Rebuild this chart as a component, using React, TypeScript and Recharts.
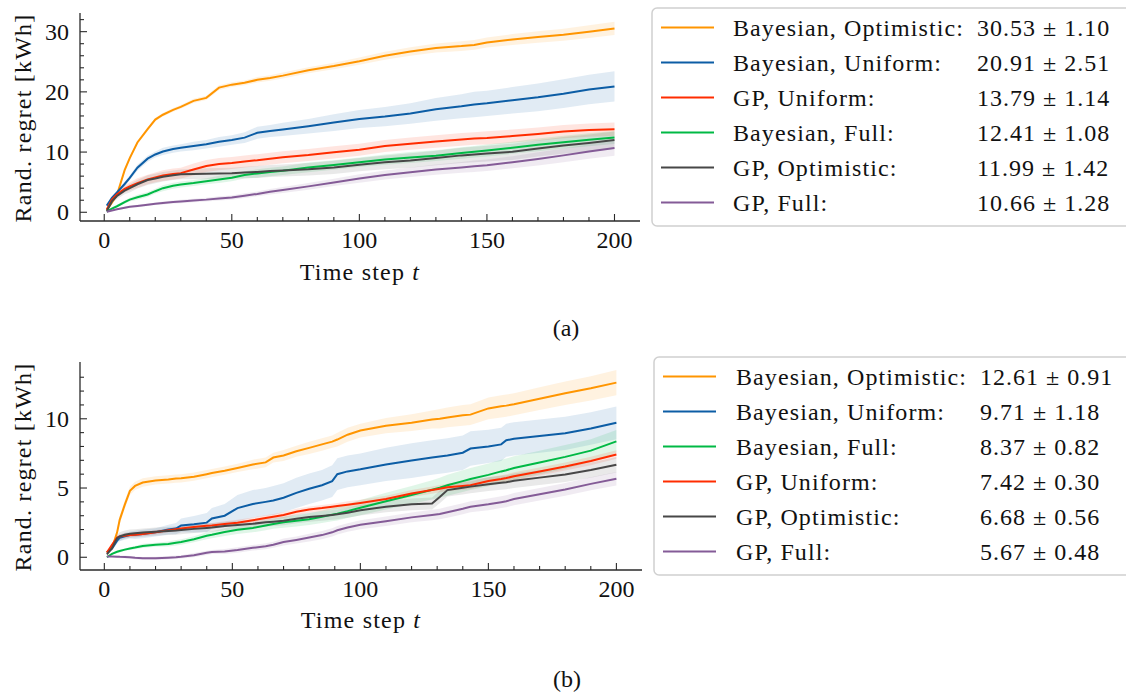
import { ComposedChart, Line, Area, XAxis, YAxis } from 'recharts'

const ORANGE = '#FF9500'
const BLUE = '#0C5DA5'
const GREEN = '#00B945'
const RED = '#FF2C00'
const PURPLE = '#845B97'
const GRAY = '#474747'
const FRAME = '#2a2a2a'
const FONT = "'Liberation Serif', 'Times New Roman', serif"

// ---- (a) cumulative regret, mean and std per time step
const stepsA = [1, 3, 5, 8, 10, 13, 17, 20, 23, 27, 30, 35, 40, 45, 50, 55, 60, 65, 70, 80, 90, 100, 110, 120, 130, 140, 145, 150, 160, 170, 180, 190, 200]
const aBayOpt = [0.4, 1.6, 2.9, 7.0, 9.0, 11.6, 13.8, 15.4, 16.2, 17.0, 17.5, 18.5, 19.0, 20.7, 21.2, 21.5, 22.0, 22.3, 22.7, 23.6, 24.3, 25.1, 26.0, 26.7, 27.3, 27.6, 27.8, 28.2, 28.7, 29.1, 29.5, 30.0, 30.53]
const aBayOptStd = [0.1, 0.2, 0.3, 0.3, 0.3, 0.3, 0.3, 0.3, 0.3, 0.3, 0.3, 0.35, 0.35, 0.4, 0.4, 0.4, 0.45, 0.45, 0.5, 0.5, 0.55, 0.6, 0.65, 0.7, 0.75, 0.8, 0.8, 0.85, 0.9, 0.95, 1.0, 1.05, 1.1]
const aBayUni = [1.1, 2.4, 3.3, 4.7, 5.7, 7.4, 8.9, 9.6, 10.1, 10.5, 10.7, 11.0, 11.3, 11.7, 12.0, 12.4, 13.2, 13.5, 13.75, 14.3, 14.9, 15.5, 15.9, 16.4, 17.1, 17.6, 17.9, 18.1, 18.6, 19.1, 19.7, 20.4, 20.91]
const aBayUniStd = [0.1, 0.2, 0.3, 0.4, 0.4, 0.5, 0.5, 0.5, 0.6, 0.6, 0.6, 0.7, 0.7, 0.8, 0.8, 0.9, 1.0, 1.0, 1.1, 1.2, 1.4, 1.5, 1.6, 1.7, 1.9, 2.0, 2.1, 2.1, 2.2, 2.3, 2.4, 2.45, 2.51]
const aGpUni = [0.45, 2.1, 3.0, 3.9, 4.3, 4.85, 5.45, 5.8, 6.1, 6.35, 6.5, 7.1, 7.7, 8.0, 8.2, 8.45, 8.65, 8.9, 9.15, 9.5, 9.95, 10.4, 11.0, 11.4, 11.75, 12.1, 12.25, 12.35, 12.65, 13.0, 13.4, 13.65, 13.79]
const aGpUniStd = [0.1, 0.3, 0.5, 0.6, 0.7, 0.8, 0.8, 0.8, 0.9, 0.9, 0.9, 1.0, 1.0, 1.0, 1.0, 1.0, 1.0, 1.0, 1.0, 1.0, 1.0, 1.0, 1.0, 1.0, 1.05, 1.05, 1.05, 1.1, 1.1, 1.1, 1.1, 1.1, 1.14]
const aBayFull = [0.1, 0.6, 1.0, 1.7, 2.1, 2.5, 2.95, 3.5, 4.0, 4.4, 4.6, 4.85, 5.15, 5.45, 5.75, 6.2, 6.45, 6.7, 6.9, 7.45, 7.85, 8.3, 8.75, 9.1, 9.4, 9.85, 10.05, 10.25, 10.7, 11.2, 11.65, 12.05, 12.41]
const aBayFullStd = [0.05, 0.1, 0.2, 0.3, 0.3, 0.4, 0.4, 0.4, 0.5, 0.5, 0.5, 0.5, 0.5, 0.6, 0.6, 0.6, 0.7, 0.7, 0.7, 0.8, 0.8, 0.8, 0.85, 0.9, 0.9, 0.95, 0.95, 1.0, 1.0, 1.05, 1.05, 1.08, 1.08]
const aGpOpt = [0.2, 1.8, 2.7, 3.6, 4.0, 4.65, 5.35, 5.6, 5.9, 6.15, 6.3, 6.35, 6.4, 6.45, 6.5, 6.6, 6.7, 6.85, 6.95, 7.15, 7.45, 7.9, 8.3, 8.6, 9.0, 9.45, 9.6, 9.75, 10.05, 10.6, 11.1, 11.5, 11.99]
const aGpOptStd = [0.1, 0.3, 0.5, 0.6, 0.7, 0.7, 0.8, 0.8, 0.8, 0.8, 0.8, 0.85, 0.9, 0.9, 0.9, 0.95, 1.0, 1.0, 1.0, 1.05, 1.1, 1.1, 1.15, 1.2, 1.2, 1.25, 1.3, 1.3, 1.35, 1.35, 1.4, 1.4, 1.42]
const aGpFull = [0.1, 0.3, 0.5, 0.75, 0.9, 1.05, 1.25, 1.4, 1.55, 1.7, 1.8, 1.95, 2.1, 2.3, 2.45, 2.75, 3.05, 3.4, 3.7, 4.3, 4.95, 5.6, 6.2, 6.65, 7.1, 7.45, 7.65, 7.8, 8.3, 8.85, 9.45, 10.1, 10.66]
const aGpFullStd = [0.05, 0.1, 0.1, 0.15, 0.15, 0.2, 0.2, 0.2, 0.25, 0.25, 0.3, 0.3, 0.3, 0.35, 0.35, 0.4, 0.4, 0.45, 0.5, 0.55, 0.6, 0.7, 0.75, 0.8, 0.85, 0.9, 0.95, 0.95, 1.0, 1.1, 1.15, 1.2, 1.28]
const namesA = ['Bayesian, Optimistic:', 'Bayesian, Uniform:', 'GP, Uniform:', 'Bayesian, Full:', 'GP, Optimistic:', 'GP, Full:']
const finalMeanA = [30.53, 20.91, 13.79, 12.41, 11.99, 10.66]
const finalStdA = [1.1, 2.51, 1.14, 1.08, 1.42, 1.28]

// ---- (b)
const stepsB = [1, 3, 5, 6, 8, 10, 12, 15, 20, 25, 28, 30, 35, 40, 42, 47, 52, 58, 63, 66, 70, 75, 80, 85, 89, 91, 95, 100, 110, 120, 128, 131, 134, 140, 143, 150, 155, 157, 160, 170, 180, 190, 200]
const bBayOpt = [0.34, 0.65, 1.8, 2.7, 3.8, 4.8, 5.15, 5.4, 5.55, 5.62, 5.68, 5.7, 5.82, 6.0, 6.08, 6.25, 6.45, 6.7, 6.85, 7.2, 7.35, 7.65, 7.9, 8.15, 8.35, 8.5, 8.85, 9.15, 9.5, 9.72, 9.95, 10.0, 10.1, 10.25, 10.3, 10.75, 10.9, 10.95, 11.05, 11.45, 11.85, 12.2, 12.61]
const bBayOptStd = [0.1, 0.15, 0.25, 0.3, 0.3, 0.3, 0.3, 0.3, 0.3, 0.3, 0.3, 0.3, 0.3, 0.3, 0.3, 0.3, 0.3, 0.35, 0.35, 0.35, 0.4, 0.4, 0.45, 0.45, 0.45, 0.5, 0.5, 0.5, 0.55, 0.6, 0.65, 0.7, 0.72, 0.75, 0.75, 0.78, 0.8, 0.8, 0.8, 0.82, 0.85, 0.88, 0.91]
const bBayUni = [0.34, 0.62, 1.2, 1.4, 1.52, 1.6, 1.62, 1.68, 1.8, 2.0, 2.07, 2.3, 2.38, 2.5, 2.8, 3.0, 3.55, 3.85, 4.0, 4.1, 4.3, 4.65, 4.95, 5.2, 5.5, 6.0, 6.2, 6.35, 6.7, 6.98, 7.2, 7.28, 7.35, 7.55, 7.85, 8.0, 8.15, 8.45, 8.55, 8.75, 8.95, 9.3, 9.71]
const bBayUniStd = [0.1, 0.15, 0.2, 0.25, 0.25, 0.25, 0.3, 0.3, 0.3, 0.35, 0.4, 0.5, 0.6, 0.7, 0.75, 0.85, 0.95, 1.0, 1.0, 1.05, 1.05, 1.1, 1.1, 1.1, 1.15, 1.15, 1.15, 1.15, 1.2, 1.25, 1.25, 1.25, 1.25, 1.25, 1.25, 1.2, 1.2, 1.2, 1.2, 1.2, 1.2, 1.18, 1.18]
const bBayFull = [0.0, 0.25, 0.4, 0.45, 0.55, 0.63, 0.7, 0.82, 0.9, 0.95, 1.05, 1.1, 1.3, 1.55, 1.62, 1.82, 1.98, 2.12, 2.3, 2.4, 2.52, 2.63, 2.75, 2.92, 3.08, 3.15, 3.33, 3.58, 4.05, 4.5, 4.87, 5.02, 5.2, 5.5, 5.65, 5.95, 6.2, 6.28, 6.45, 6.85, 7.25, 7.7, 8.37]
const bBayFullStd = [0.02, 0.05, 0.08, 0.1, 0.1, 0.1, 0.12, 0.15, 0.15, 0.18, 0.2, 0.2, 0.22, 0.25, 0.25, 0.28, 0.3, 0.32, 0.35, 0.35, 0.38, 0.4, 0.42, 0.45, 0.48, 0.5, 0.5, 0.55, 0.6, 0.65, 0.7, 0.72, 0.75, 0.78, 0.8, 0.82, 0.85, 0.85, 0.85, 0.85, 0.85, 0.83, 0.82]
const bGpUni = [0.34, 0.9, 1.42, 1.5, 1.56, 1.6, 1.63, 1.68, 1.8, 1.95, 2.03, 2.08, 2.18, 2.27, 2.3, 2.4, 2.5, 2.67, 2.83, 2.92, 3.05, 3.28, 3.45, 3.55, 3.65, 3.7, 3.8, 3.92, 4.2, 4.6, 4.85, 4.95, 5.05, 5.15, 5.2, 5.5, 5.65, 5.72, 5.85, 6.2, 6.55, 6.95, 7.42]
const bGpUniStd = [0.05, 0.1, 0.15, 0.15, 0.15, 0.15, 0.15, 0.15, 0.15, 0.15, 0.15, 0.15, 0.18, 0.18, 0.18, 0.2, 0.2, 0.2, 0.2, 0.2, 0.22, 0.22, 0.22, 0.22, 0.22, 0.22, 0.24, 0.24, 0.25, 0.25, 0.26, 0.26, 0.26, 0.27, 0.27, 0.28, 0.28, 0.28, 0.28, 0.29, 0.29, 0.3, 0.3]
const bGpOpt = [0.2, 0.65, 1.38, 1.5, 1.63, 1.7, 1.73, 1.78, 1.85, 1.9, 1.93, 1.96, 2.05, 2.12, 2.15, 2.25, 2.33, 2.42, 2.52, 2.57, 2.63, 2.78, 2.9, 2.98, 3.06, 3.1, 3.22, 3.4, 3.65, 3.82, 3.88, 4.35, 4.85, 5.02, 5.1, 5.28, 5.38, 5.42, 5.52, 5.75, 5.98, 6.3, 6.68]
const bGpOptStd = [0.05, 0.15, 0.25, 0.3, 0.3, 0.3, 0.3, 0.3, 0.3, 0.3, 0.3, 0.3, 0.3, 0.3, 0.3, 0.3, 0.3, 0.3, 0.32, 0.32, 0.32, 0.33, 0.34, 0.35, 0.35, 0.35, 0.36, 0.38, 0.4, 0.42, 0.44, 0.45, 0.46, 0.48, 0.48, 0.5, 0.5, 0.5, 0.52, 0.53, 0.54, 0.55, 0.56]
const bGpFull = [0.05, 0.05, 0.04, 0.03, 0.02, 0.0, -0.04, -0.08, -0.08, -0.03, 0.0, 0.03, 0.15, 0.32, 0.38, 0.42, 0.52, 0.68, 0.8, 0.9, 1.1, 1.25, 1.42, 1.6, 1.8, 1.95, 2.15, 2.35, 2.6, 2.88, 3.05, 3.12, 3.25, 3.5, 3.65, 3.82, 3.98, 4.05, 4.2, 4.55, 4.9, 5.3, 5.67]
const bGpFullStd = [0.02, 0.05, 0.08, 0.1, 0.1, 0.1, 0.1, 0.1, 0.12, 0.12, 0.12, 0.12, 0.15, 0.15, 0.15, 0.18, 0.2, 0.2, 0.22, 0.22, 0.25, 0.25, 0.28, 0.3, 0.3, 0.3, 0.3, 0.32, 0.34, 0.36, 0.38, 0.38, 0.39, 0.4, 0.4, 0.42, 0.43, 0.43, 0.44, 0.45, 0.46, 0.47, 0.48]
const namesB = ['Bayesian, Optimistic:', 'Bayesian, Uniform:', 'Bayesian, Full:', 'GP, Uniform:', 'GP, Optimistic:', 'GP, Full:']
const finalMeanB = [12.61, 9.71, 8.37, 7.42, 6.68, 5.67]
const finalStdB = [0.91, 1.18, 0.82, 0.3, 0.56, 0.48]

// ---- axes
const xDomain = [-9.5, 210]
const xTicks = [0, 10, 20, 30, 40, 50, 60, 70, 80, 90, 100, 110, 120, 130, 140, 150, 160, 170, 180, 190, 200]
const yDomainA = [-1.45, 33.1]
const yTicksA = [0, 2, 4, 6, 8, 10, 12, 14, 16, 18, 20, 22, 24, 26, 28, 30, 32]
const yDomainB = [-0.92, 14.1]
const yTicksB = [0, 1, 2, 3, 4, 5, 6, 7, 8, 9, 10, 11, 12, 13]

type Series = { id: string; color: string; mean: number[]; std: number[] }

const seriesA: Series[] = [
  { id: 'bayOpt', color: ORANGE, mean: aBayOpt, std: aBayOptStd },
  { id: 'bayUni', color: BLUE, mean: aBayUni, std: aBayUniStd },
  { id: 'gpUni', color: RED, mean: aGpUni, std: aGpUniStd },
  { id: 'bayFull', color: GREEN, mean: aBayFull, std: aBayFullStd },
  { id: 'gpOpt', color: GRAY, mean: aGpOpt, std: aGpOptStd },
  { id: 'gpFull', color: PURPLE, mean: aGpFull, std: aGpFullStd },
]
const seriesB: Series[] = [
  { id: 'bayOpt', color: ORANGE, mean: bBayOpt, std: bBayOptStd },
  { id: 'bayUni', color: BLUE, mean: bBayUni, std: bBayUniStd },
  { id: 'bayFull', color: GREEN, mean: bBayFull, std: bBayFullStd },
  { id: 'gpUni', color: RED, mean: bGpUni, std: bGpUniStd },
  { id: 'gpOpt', color: GRAY, mean: bGpOpt, std: bGpOptStd },
  { id: 'gpFull', color: PURPLE, mean: bGpFull, std: bGpFullStd },
]

function buildRows(steps: number[], series: Series[]) {
  return steps.map((t, i) => {
    const row: Record<string, any> = { t }
    series.forEach((s) => {
      row[s.id] = s.mean[i]
      row[s.id + 'Band'] = [s.mean[i] - s.std[i], s.mean[i] + s.std[i]]
    })
    return row
  })
}

const rowsA = buildRows(stepsA, seriesA)
const rowsB = buildRows(stepsB, seriesB)

// inward ticks on all four sides, labels only on major ticks
const makeTick = (side: string, major: number, labels: boolean) => (props: any) => {
  const { x, y, payload } = props
  const v = payload.value
  const isMajor = Math.abs(v % major) < 1e-9
  const len = isMajor ? 7 : 4
  let line
  if (side === 'bottom') line = <line x1={x} x2={x} y1={y} y2={y - len} />
  else if (side === 'top') line = <line x1={x} x2={x} y1={y} y2={y + len} />
  else if (side === 'left') line = <line x1={x} x2={x + len} y1={y} y2={y} />
  else line = <line x1={x} x2={x - len} y1={y} y2={y} />
  return (
    <g>
      <g stroke={FRAME} strokeWidth={1.1}>{line}</g>
      {labels && isMajor && side === 'bottom' && (
        <text x={x} y={y + 27} textAnchor="middle" fontFamily={FONT} fontSize={24} fill="#111">
          {v}
        </text>
      )}
      {labels && isMajor && side === 'left' && (
        <text x={x - 11} y={y + 8} textAnchor="end" fontFamily={FONT} fontSize={24} fill="#111">
          {v}
        </text>
      )}
    </g>
  )
}

type PanelProps = {
  rows: any[]
  series: Series[]
  yDomain: number[]
  yTicks: number[]
  yMajor: number
  marginRight: number
}

function Panel({ rows, series, yDomain, yTicks, yMajor, marginRight }: PanelProps) {
  const frame = { stroke: FRAME, strokeWidth: 1.3 }
  return (
    <ComposedChart width={660} height={300} data={rows} margin={{ top: 13, right: marginRight, bottom: 29, left: 0 }}>
      <XAxis
        xAxisId="b"
        dataKey="t"
        type="number"
        domain={xDomain}
        allowDataOverflow
        ticks={xTicks}
        interval={0}
        tickSize={0}
        tickMargin={0}
        tickLine={false}
        height={50}
        axisLine={frame}
        tick={makeTick('bottom', 50, true)}
      />
      <XAxis
        xAxisId="t"
        orientation="top"
        dataKey="t"
        type="number"
        domain={xDomain}
        allowDataOverflow
        ticks={xTicks}
        interval={0}
        tickSize={0}
        tickMargin={0}
        tickLine={false}
        height={0}
        axisLine={frame}
        tick={makeTick('top', 50, false)}
      />
      <YAxis
        yAxisId="l"
        type="number"
        domain={yDomain}
        allowDataOverflow
        ticks={yTicks}
        interval={0}
        tickSize={0}
        tickMargin={0}
        tickLine={false}
        width={80}
        axisLine={frame}
        tick={makeTick('left', yMajor, true)}
      />
      <YAxis
        yAxisId="r"
        orientation="right"
        type="number"
        domain={yDomain}
        allowDataOverflow
        ticks={yTicks}
        interval={0}
        tickSize={0}
        tickMargin={0}
        tickLine={false}
        width={0}
        axisLine={frame}
        tick={makeTick('right', yMajor, false)}
      />
      {series.map((s) => (
        <Area
          key={s.id + 'Band'}
          xAxisId="b"
          yAxisId="l"
          type="linear"
          dataKey={s.id + 'Band'}
          stroke="none"
          fill={s.color}
          fillOpacity={0.12}
          dot={false}
          activeDot={false}
          isAnimationActive={false}
        />
      ))}
      {series.map((s) => (
        <Line
          key={s.id}
          xAxisId="b"
          yAxisId="l"
          type="linear"
          dataKey={s.id}
          stroke={s.color}
          strokeWidth={2}
          dot={false}
          activeDot={false}
          isAnimationActive={false}
        />
      ))}
    </ComposedChart>
  )
}

type LegendProps = {
  top: number
  left: number
  lineX: number
  textX: number
  valueX: number
  series: Series[]
  names: string[]
  means: number[]
  stds: number[]
}

function LegendBox({ top, left, lineX, textX, valueX, series, names, means, stds }: LegendProps) {
  return (
    <g>
      <rect x={left} y={top} width={1140 - left} height={218} rx={5} ry={5} fill="#fff" stroke="#d0d0d0" strokeWidth={1.5} />
      {series.map((s, i) => {
        const cy = top + 19.5 + i * 35
        return (
          <g key={s.id}>
            <line x1={lineX} x2={lineX + 53} y1={cy} y2={cy} stroke={s.color} strokeWidth={2} />
            <text x={textX} y={cy + 8.4} fontFamily={FONT} fontSize={24} letterSpacing={1.1} fill="#111">
              {names[i]}
            </text>
            <text x={valueX} y={cy + 8.4} fontFamily={FONT} fontSize={24} letterSpacing={1.0} fill="#111">
              {`${means[i].toFixed(2)} ± ${stds[i].toFixed(2)}`}
            </text>
          </g>
        )
      })}
    </g>
  )
}

export default function App() {
  const txt = { fontFamily: FONT, fontSize: 24, fill: '#111' }
  return (
    <div style={{ position: 'absolute', left: 0, top: 0, width: 1126, height: 693, background: '#fff', overflow: 'hidden' }}>
      <div style={{ position: 'absolute', left: 0, top: 0 }}>
        <Panel rows={rowsA} series={seriesA} yDomain={yDomainA} yTicks={yTicksA} yMajor={10} marginRight={20} />
      </div>
      <div style={{ position: 'absolute', left: 0, top: 349 }}>
        <Panel rows={rowsB} series={seriesB} yDomain={yDomainB} yTicks={yTicksB} yMajor={5} marginRight={18} />
      </div>
      <svg width={1126} height={693} style={{ position: 'absolute', left: 0, top: 0, pointerEvents: 'none' }}>
        <text x={30.5} y={118} transform="rotate(-90 30.5 118)" textAnchor="middle" letterSpacing={1.2} {...txt}>
          Rand. regret [kWh]
        </text>
        <text x={360} y={279.5} textAnchor="middle" letterSpacing={1.2} {...txt}>
          Time step <tspan fontStyle="italic">t</tspan>
        </text>
        <text x={566} y={336} textAnchor="middle" {...txt}>
          (a)
        </text>
        <text x={30.5} y={467} transform="rotate(-90 30.5 467)" textAnchor="middle" letterSpacing={1.2} {...txt}>
          Rand. regret [kWh]
        </text>
        <text x={361} y={628} textAnchor="middle" letterSpacing={1.2} {...txt}>
          Time step <tspan fontStyle="italic">t</tspan>
        </text>
        <text x={567} y={687} textAnchor="middle" {...txt}>
          (b)
        </text>
        <LegendBox top={8} left={652} lineX={661} textX={733} valueX={977} series={seriesA} names={namesA} means={finalMeanA} stds={finalStdA} />
        <LegendBox top={357} left={654} lineX={663} textX={736} valueX={980} series={seriesB} names={namesB} means={finalMeanB} stds={finalStdB} />
      </svg>
    </div>
  )
}
